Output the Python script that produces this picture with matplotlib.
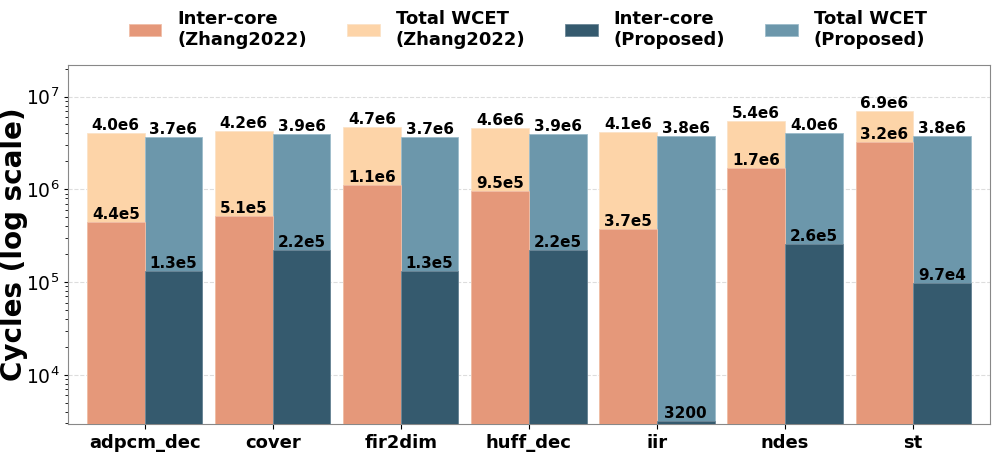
import matplotlib
matplotlib.use("Agg")
import matplotlib.pyplot as plt
import numpy as np

# data
benchmarks = ["adpcm_dec", "cover", "fir2dim", "huff_dec", "iir", "ndes", "st"]
zhang_total = [4.0e6, 4.2e6, 4.7e6, 4.6e6, 4.1e6, 5.4e6, 6.9e6]
zhang_inter = [4.4e5, 5.1e5, 1.1e6, 9.5e5, 3.7e5, 1.7e6, 3.2e6]
prop_total = [3.7e6, 3.9e6, 3.7e6, 3.9e6, 3.8e6, 4.0e6, 3.8e6]
prop_inter = [1.3e5, 2.2e5, 1.3e5, 2.2e5, 3200, 2.6e5, 9.7e4]

SALMON = "#e5987a"
PEACH = "#fdd4a8"
SLATE = "#355a6e"
STEEL = "#6c97ab"


def fmt(v):
    if v < 1e4:
        return f"{int(v)}"
    s = f"{v:.1e}"
    m, e = s.split("e")
    return f"{m}e{int(e)}"


fig = plt.figure(figsize=(9.96, 4.53), dpi=100)
ax = fig.add_axes([0.068, 0.064, 0.926, 0.793])

x = np.arange(len(benchmarks))
w = 0.45

b1 = ax.bar(x - w / 2, zhang_total, w, color=PEACH, edgecolor="#fbe3c8", linewidth=0.6,
            label="Total WCET\n(Zhang2022)", zorder=2)
b2 = ax.bar(x - w / 2, zhang_inter, w, color=SALMON, edgecolor="#f0bfa8", linewidth=0.6,
            label="Inter-core\n(Zhang2022)", zorder=3)
b3 = ax.bar(x + w / 2, prop_total, w, color=STEEL, edgecolor="#9dbccb", linewidth=0.6,
            label="Total WCET\n(Proposed)", zorder=2)
b4 = ax.bar(x + w / 2, prop_inter, w, color=SLATE, edgecolor="#6c8797", linewidth=0.6,
            label="Inter-core\n(Proposed)", zorder=3)

for bars, vals in [(b1, zhang_total), (b2, zhang_inter), (b3, prop_total), (b4, prop_inter)]:
    for bar, v in zip(bars, vals):
        ax.annotate(fmt(v), (bar.get_x() + bar.get_width() / 2, v),
                    xytext=(0, 0), textcoords="offset points",
                    ha="center", va="bottom", fontsize=11, fontweight="bold",
                    color="black", zorder=5)

ax.set_yscale("log")
ax.set_ylim(2950, 2.2e7)
ax.set_xlim(-0.6, len(benchmarks) - 0.4)
ax.set_xticks(x)
ax.set_xticklabels(benchmarks, fontsize=13, fontweight="bold")
ax.tick_params(axis="y", labelsize=13.5, length=3, pad=3)
ax.tick_params(axis="y", which="minor", length=2)
ax.set_ylabel("Cycles (log scale)", fontsize=20, fontweight="bold")
ax.yaxis.set_label_coords(-0.043, 0.5)
ax.grid(True, axis="y", which="major", linestyle="--", color="#dddddd", linewidth=0.8, zorder=0)
ax.set_axisbelow(True)
for sp in ax.spines.values():
    sp.set_color("#888888")

handles = [b2, b1, b4, b3]
fig.legend(handles=handles, labels=[h.get_label() for h in handles],
           loc="center", bbox_to_anchor=(0.53, 0.935), ncol=4, frameon=False,
           prop={"size": 13, "weight": "bold"}, handlelength=1.8, columnspacing=2.2,
           handletextpad=0.9)

fig.savefig("out.png", dpi=100)
plt.close(fig)
